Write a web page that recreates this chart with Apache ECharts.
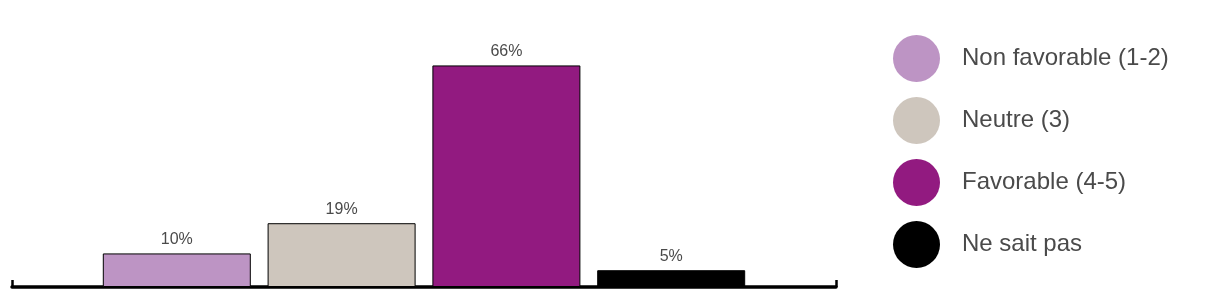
<!DOCTYPE html>
<html>
<head>
<meta charset="utf-8">
<script src="https://cdn.jsdelivr.net/npm/echarts@6/dist/echarts.min.js"></script>
<style>html,body{margin:0;padding:0;background:#fff;}#c{width:1220px;height:307px;}</style>
</head>
<body>
<div id="c"></div>
<script>
var categories = ['', 'Non favorable (1-2)', 'Neutre (3)', 'Favorable (4-5)', 'Ne sait pas', ''];
var seriesNames = ['Non favorable (1-2)', 'Neutre (3)', 'Favorable (4-5)', 'Ne sait pas'];
var values = [10, 19, 66, 5];
var colors = ['#BD94C4', '#CEC6BD', '#921A80', '#000000'];

var series = seriesNames.map(function (name, i) {
  var data = categories.map(function () { return '-'; });
  data[i + 1] = values[i];
  return {
    name: name,
    type: 'bar',
    barWidth: 148,
    barGap: '-100%',
    data: data,
    itemStyle: { color: colors[i], borderColor: '#000', borderWidth: 1 },
    label: {
      show: true, position: 'top', distance: 6,
      formatter: '{c}%', fontFamily: 'Liberation Sans, Arial, sans-serif',
      fontSize: 16, color: '#4a4a4a'
    }
  };
});

var chart = echarts.init(document.getElementById('c'), null, { renderer: 'canvas' });
chart.setOption({
  animation: false,
  color: colors,
  grid: { left: 12, right: 384, top: 52, bottom: 20 },
  legend: {
    orient: 'vertical', left: 893, top: 35, padding: 0,
    itemWidth: 47, itemHeight: 47, itemGap: 15,
    icon: 'circle',
    itemStyle: { borderWidth: 0 },
    data: seriesNames,
    textStyle: { fontFamily: 'Liberation Sans, Arial, sans-serif', fontSize: 24, color: '#4a4a4a', padding: [0, 0, 0, 17] }
  },
  xAxis: {
    type: 'category', data: categories, boundaryGap: false,
    axisLine: { lineStyle: { color: '#000', width: 3.5 } },
    axisTick: { show: true, inside: true, length: 7, lineStyle: { color: '#000', width: 2.5 },
      interval: function (idx) { return idx === 0 || idx === categories.length - 1; } },
    axisLabel: { show: false }
  },
  yAxis: {
    type: 'value', min: 0, max: 70,
    show: false, splitLine: { show: false }
  },
  series: series
});
</script>
</body>
</html>
